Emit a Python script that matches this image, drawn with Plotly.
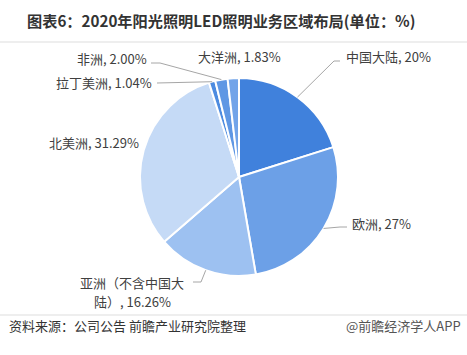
import math
import plotly.graph_objects as go

# ---- data ----
regions = ["中国大陆", "欧洲", "亚洲（不含中国大陆）", "北美洲", "拉丁美洲", "非洲", "大洋洲"]
shares = [20, 27, 16.26, 31.29, 1.04, 2.00, 1.83]
share_labels = ["20%", "27%", "16.26%", "31.29%", "1.04%", "2.00%", "1.83%"]
# label text split into wrapped lines (as in the reference)
display_lines = [
    ["中国大陆, 20%"],
    ["欧洲, 27%"],
    ["亚洲（不含中国大", "陆）, 16.26%"],
    ["北美洲, 31.29%"],
    ["拉丁美洲, 1.04%"],
    ["非洲, 2.00%"],
    ["大洋洲, 1.83%"],
]

colors = ["#4081DC", "#6CA0E7", "#9DC1F1", "#C5DAF6", "#4D8BE0", "#5F97E4", "#72A4E9"]

W, H = 467, 355
CX, CY, R = 239, 177, 99   # pie centre / radius in pixels

FONT = "Noto Sans CJK SC, Noto Sans, sans-serif"

fig = go.Figure()
fig.add_trace(go.Pie(
    labels=regions, values=shares, sort=False, direction="clockwise", rotation=0,
    marker=dict(colors=colors, line=dict(color="white", width=2)),
    textinfo="none", hoverinfo="label+value",
    domain=dict(x=[(CX - R) / W, (CX + R) / W], y=[1 - (CY + R) / H, 1 - (CY - R) / H]),
    showlegend=False,
))

def px(x):
    return x / W

def py(y):
    return 1 - y / H

# mid-angle edge points computed from data
total = sum(shares)
edge = []
acc = 0
for v in shares:
    mid = (acc + v / 2) / total * 2 * math.pi
    edge.append((CX + R * math.sin(mid), CY - R * math.cos(mid)))
    acc += v

# label layout: (x, y of first line, xanchor, path points after edge)
label_layout = [
    (344, 56, "left", [(334, 61), (340, 61)]),
    (350, 223, "left", [(340, 227), (347, 227)]),
    (132, 282, "center", [(201, 282), (193, 282)]),
    (141, 142, "right", None),
    (154, 82, "right", [(157, 83)]),
    (149, 58, "right", [(160, 63), (151, 63)]),
    (239, 56, "center", None),
]
LINE_GAP = 19

annotations = []
shapes = []
for i, (x, y, anc, pts) in enumerate(label_layout):
    for k, line in enumerate(display_lines[i]):
        annotations.append(dict(
            x=px(x), y=py(y + k * LINE_GAP), xref="paper", yref="paper", xanchor=anc, yanchor="middle",
            text=line, showarrow=False, align="center",
            font=dict(family=FONT, size=13, color="#404040"),
        ))
    if pts:
        ex, ey = edge[i]
        path = f"M {px(ex)} {py(ey)}" + "".join(f" L {px(a)} {py(b)}" for a, b in pts)
        shapes.append(dict(type="path", xref="paper", yref="paper", path=path,
                           line=dict(color="#A6A6A6", width=1)))

# title and footer
annotations.append(dict(x=px(25), y=py(20), xref="paper", yref="paper", xanchor="left", yanchor="middle",
                        text="<b>图表6：2020年阳光照明LED照明业务区域布局(单位：%)</b>", showarrow=False,
                        font=dict(family=FONT, size=15.2, color="#333333")))
annotations.append(dict(x=px(7), y=py(325), xref="paper", yref="paper", xanchor="left", yanchor="middle",
                        text="资料来源：公司公告 前瞻产业研究院整理", showarrow=False,
                        font=dict(family=FONT, size=13, color="#333333")))
annotations.append(dict(x=px(463), y=py(325), xref="paper", yref="paper", xanchor="right", yanchor="middle",
                        text="@前瞻经济学人APP", showarrow=False,
                        font=dict(family=FONT, size=13, color="#555555")))

shapes.append(dict(type="line", xref="paper", yref="paper", x0=0, x1=1, y0=py(42), y1=py(42),
                   line=dict(color="#DDDDDD", width=1)))
shapes.append(dict(type="line", xref="paper", yref="paper", x0=0, x1=1, y0=py(315), y1=py(315),
                   line=dict(color="#DDDDDD", width=1)))

fig.update_layout(
    width=W, height=H, margin=dict(l=0, r=0, t=0, b=0),
    paper_bgcolor="white", plot_bgcolor="white",
    annotations=annotations, shapes=shapes,
)

fig.write_html("out.html", config={"displayModeBar": False},
               post_script="document.body.style.margin='0';")
